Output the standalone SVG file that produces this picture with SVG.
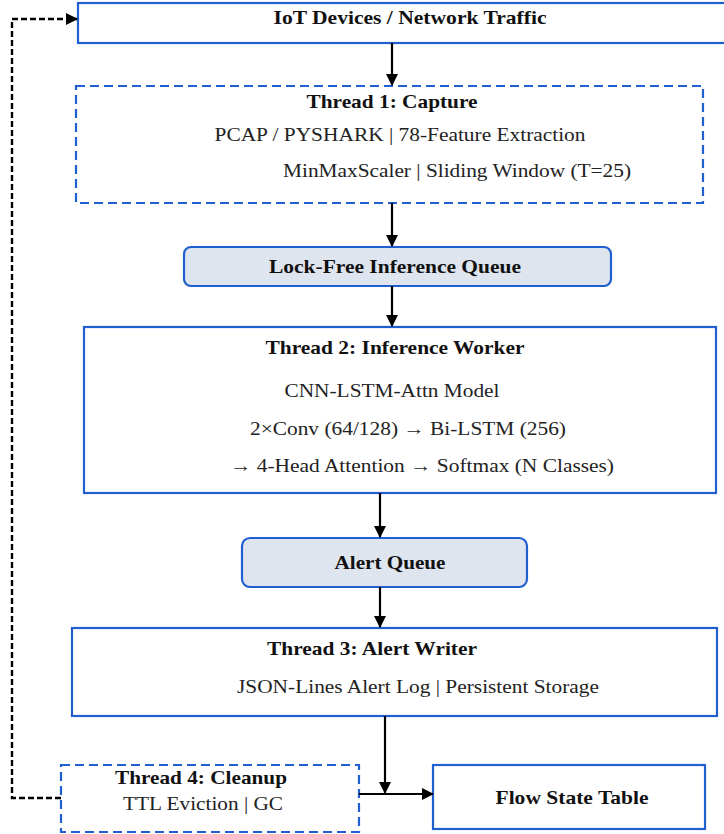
<svg xmlns="http://www.w3.org/2000/svg" width="724" height="834" viewBox="0 0 724 834">
<style>
.box{fill:#fff;stroke:#1f5fd0;stroke-width:2.2}
.dbox{fill:#fff;stroke:#1f5fd0;stroke-width:2.2;stroke-dasharray:9 5}
.q{fill:#dfe5ee;stroke:#1f5fd0;stroke-width:2.2}
.t{font-family:'Times New Roman','Liberation Serif',Times,serif;font-size:19px;font-weight:bold;fill:#111;text-anchor:middle}
.s{font-family:'Times New Roman','Liberation Serif',Times,serif;font-size:19px;fill:#222;text-anchor:middle}
.c{fill:none;stroke:#000;stroke-width:2.2}
.d{fill:none;stroke:#000;stroke-width:2.4;stroke-dasharray:6 3}
</style>
<defs>
<marker id="ah" markerWidth="12" markerHeight="12" refX="11" refY="6" orient="auto" markerUnits="userSpaceOnUse">
<path d="M0,0 L12,6 L0,12 Z" fill="#000"/>
</marker>
</defs>
<g id="iot"><rect class="box" x="78" y="3" width="650" height="40"/><text class="t" x="410" y="24" textLength="273" lengthAdjust="spacingAndGlyphs">IoT Devices / Network Traffic</text></g>
<g id="thread1"><rect class="dbox" x="76" y="86" width="627" height="117"/>
<text class="t" x="392" y="108" textLength="171" lengthAdjust="spacingAndGlyphs">Thread 1: Capture</text>
<text class="s" x="400" y="141" textLength="371" lengthAdjust="spacingAndGlyphs">PCAP / PYSHARK | 78-Feature Extraction</text>
<text class="s" x="457" y="177" textLength="348" lengthAdjust="spacingAndGlyphs">MinMaxScaler | Sliding Window (T=25)</text></g>
<g id="infq"><rect class="q" x="184" y="247" width="427" height="39" rx="7"/><text class="t" x="395" y="273" textLength="252" lengthAdjust="spacingAndGlyphs">Lock-Free Inference Queue</text></g>
<g id="thread2"><rect class="box" x="84" y="327" width="632" height="166"/>
<text class="t" x="395" y="354" textLength="259" lengthAdjust="spacingAndGlyphs">Thread 2: Inference Worker</text>
<text class="s" x="392" y="397" textLength="215" lengthAdjust="spacingAndGlyphs">CNN-LSTM-Attn Model</text>
<text class="s" x="408" y="435" textLength="316" lengthAdjust="spacingAndGlyphs">2×Conv (64/128) → Bi-LSTM (256)</text>
<text class="s" x="422" y="472" textLength="384" lengthAdjust="spacingAndGlyphs">→ 4-Head Attention → Softmax (N Classes)</text></g>
<g id="alertq"><rect class="q" x="242" y="538" width="285" height="49" rx="8"/><text class="t" x="390" y="569" textLength="111" lengthAdjust="spacingAndGlyphs">Alert Queue</text></g>
<g id="thread3"><rect class="box" x="72" y="628" width="645" height="88"/>
<text class="t" x="372" y="655" textLength="210" lengthAdjust="spacingAndGlyphs">Thread 3: Alert Writer</text>
<text class="s" x="418" y="693" textLength="362" lengthAdjust="spacingAndGlyphs">JSON-Lines Alert Log | Persistent Storage</text></g>
<g id="thread4"><rect class="dbox" x="61" y="765" width="298" height="67"/>
<text class="t" x="201" y="784" textLength="172" lengthAdjust="spacingAndGlyphs">Thread 4: Cleanup</text>
<text class="s" x="203" y="810" textLength="160" lengthAdjust="spacingAndGlyphs">TTL Eviction | GC</text></g>
<g id="flow"><rect class="box" x="433" y="765" width="272" height="64"/><text class="t" x="572" y="804" textLength="153" lengthAdjust="spacingAndGlyphs">Flow State Table</text></g>
<g id="connectors">
<line class="c" x1="392" y1="43" x2="392" y2="85" marker-end="url(#ah)"/>
<line class="c" x1="392" y1="203" x2="392" y2="246" marker-end="url(#ah)"/>
<line class="c" x1="392" y1="286" x2="392" y2="326" marker-end="url(#ah)"/>
<line class="c" x1="380" y1="493" x2="380" y2="537" marker-end="url(#ah)"/>
<line class="c" x1="380" y1="587" x2="380" y2="627" marker-end="url(#ah)"/>
<line class="c" x1="385" y1="716" x2="385" y2="793" marker-end="url(#ah)"/>
<line class="c" x1="359" y1="794" x2="433" y2="794" marker-end="url(#ah)"/>
<path class="d" d="M61,798 H12 V19 H77" marker-end="url(#ah)"/>
</g>
</svg>
